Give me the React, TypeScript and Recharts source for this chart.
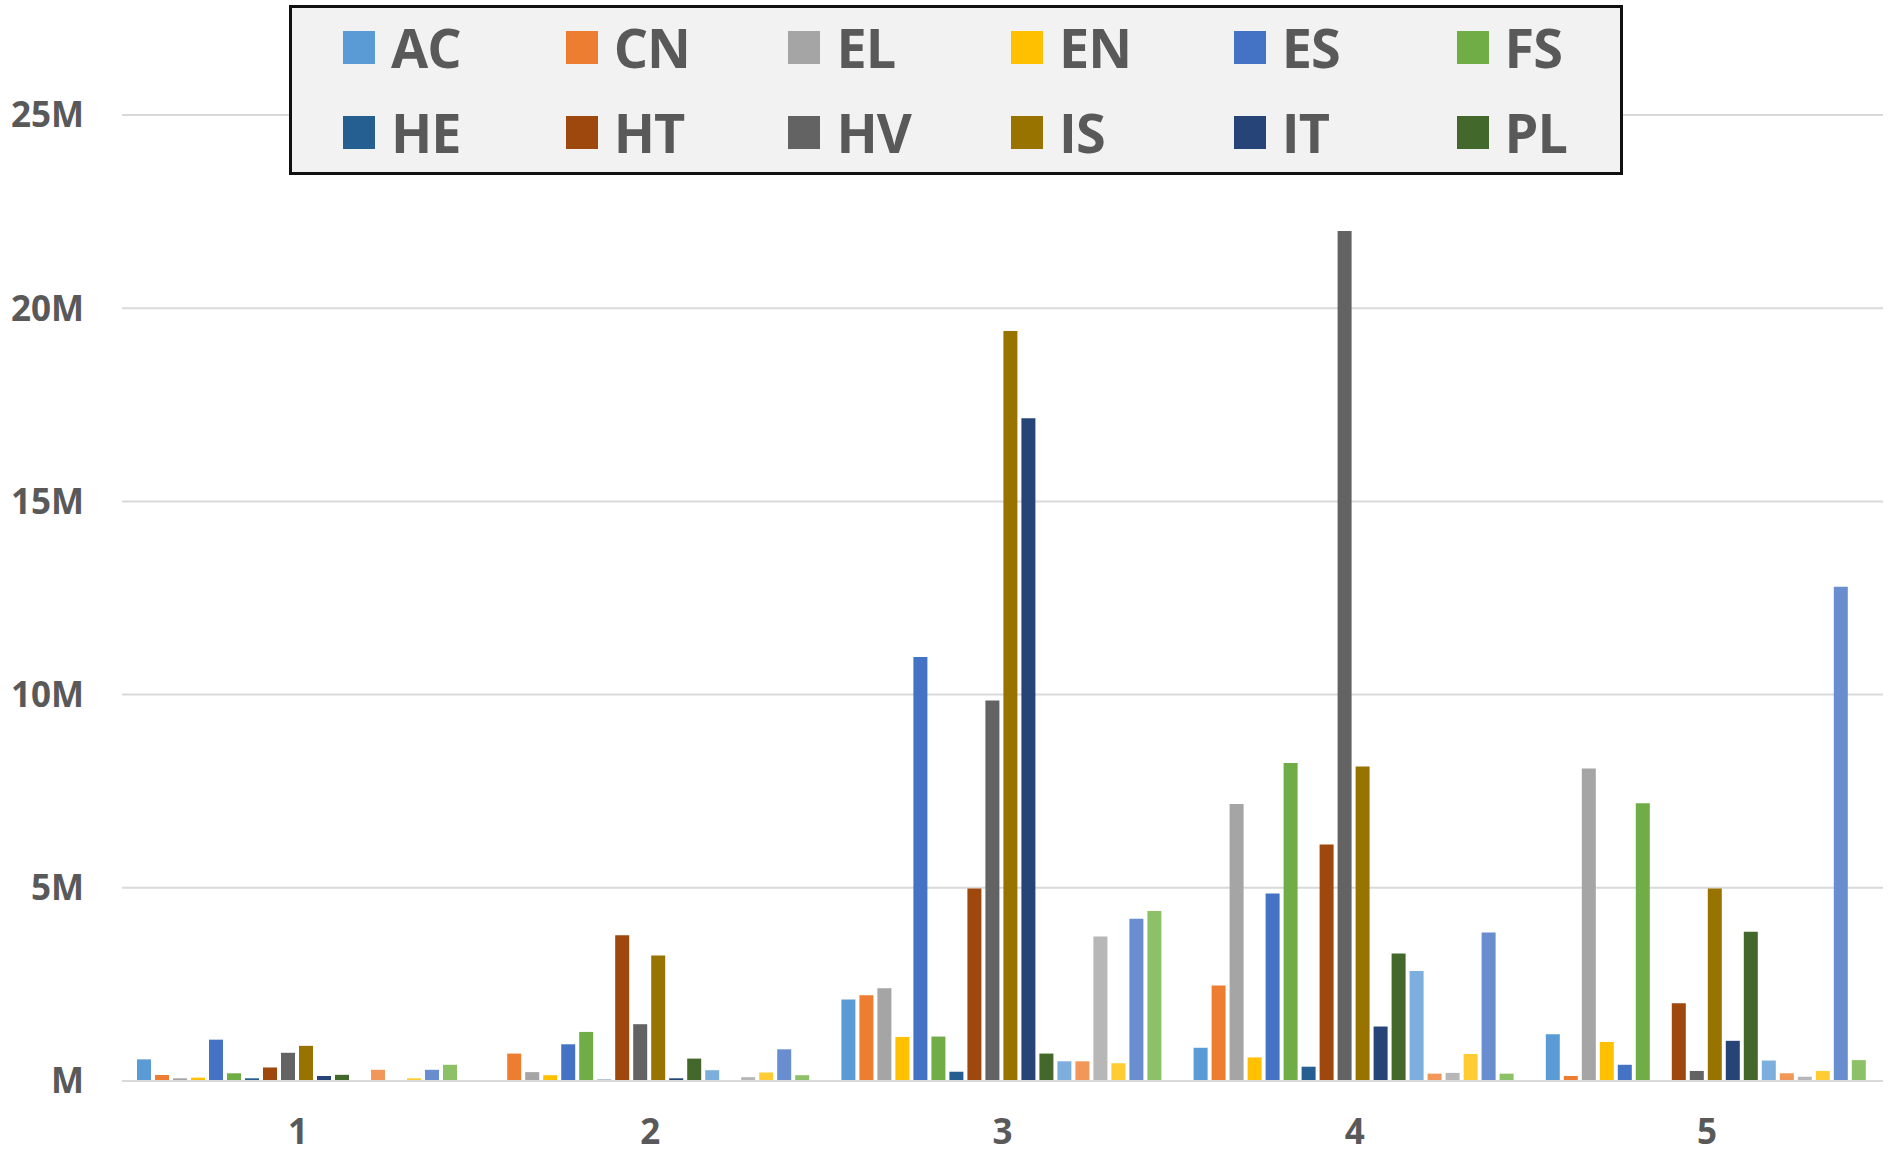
import { BarChart, Bar, XAxis, YAxis, CartesianGrid, Legend } from 'recharts';

const categories = ['1', '2', '3', '4', '5'];

// values in millions, one entry per category
const AC = [0.56, 0, 2.11, 0.86, 1.21];
const CN = [0.155, 0.71, 2.22, 2.47, 0.13];
const EL = [0.07, 0.23, 2.4, 7.17, 8.09];
const EN = [0.086, 0.15, 1.14, 0.61, 1.01];
const ES = [1.07, 0.95, 10.97, 4.85, 0.42];
const FS = [0.2, 1.27, 1.15, 8.23, 7.19];
const HE = [0.07, 0.035, 0.24, 0.37, 0];
const HT = [0.35, 3.77, 4.98, 6.12, 2.01];
const HV = [0.73, 1.47, 9.85, 22.0, 0.26];
const IS = [0.91, 3.25, 19.41, 8.14, 4.98];
const IT = [0.13, 0.07, 17.15, 1.41, 1.04];
const PL = [0.16, 0.58, 0.71, 3.3, 3.86];
// second pass of the palette (not in the legend)
const AC2 = [0, 0.28, 0.51, 2.85, 0.53];
const CN2 = [0.29, 0, 0.51, 0.19, 0.2];
const EL2 = [0, 0.1, 3.74, 0.21, 0.11];
const EN2 = [0.07, 0.22, 0.46, 0.7, 0.26];
const ES2 = [0.29, 0.82, 4.2, 3.84, 12.79];
const FS2 = [0.42, 0.15, 4.4, 0.19, 0.54];

const yTicks = [0, 5, 10, 15, 20, 25];

const series = [
  { key: 'AC', values: AC, color: '#5B9BD5', legend: true },
  { key: 'CN', values: CN, color: '#ED7D31', legend: true },
  { key: 'EL', values: EL, color: '#A5A5A5', legend: true },
  { key: 'EN', values: EN, color: '#FFC000', legend: true },
  { key: 'ES', values: ES, color: '#4472C4', legend: true },
  { key: 'FS', values: FS, color: '#70AD47', legend: true },
  { key: 'HE', values: HE, color: '#255E91', legend: true },
  { key: 'HT', values: HT, color: '#9E480E', legend: true },
  { key: 'HV', values: HV, color: '#636363', legend: true },
  { key: 'IS', values: IS, color: '#997300', legend: true },
  { key: 'IT', values: IT, color: '#264478', legend: true },
  { key: 'PL', values: PL, color: '#43682B', legend: true },
  { key: 'AC2', values: AC2, color: '#7CAFDD', legend: false },
  { key: 'CN2', values: CN2, color: '#F1975A', legend: false },
  { key: 'EL2', values: EL2, color: '#B7B7B7', legend: false },
  { key: 'EN2', values: EN2, color: '#FFCD33', legend: false },
  { key: 'ES2', values: ES2, color: '#698ED0', legend: false },
  { key: 'FS2', values: FS2, color: '#8CC168', legend: false },
];

const data = categories.map((name, i) => {
  const row: Record<string, string | number> = { name };
  series.forEach((s) => {
    row[s.key] = s.values[i];
  });
  return row;
});

const TEXT = '#595959';
const FONT = '"Open Sans", Roboto, sans-serif';

function LegendBox({ payload }: any) {
  const items = (payload || []).filter((p: any) => p.type !== 'none');
  return (
    <div
      style={{
        position: 'relative',
        boxSizing: 'border-box',
        width: 1334,
        height: 170,
        background: '#f2f2f2',
        border: '3px solid #111',
        fontFamily: FONT,
      }}
    >
      {items.map((p: any, i: number) => {
        const col = i % 6;
        const row = Math.floor(i / 6);
        return (
          <div
            key={p.value}
            style={{
              position: 'absolute',
              left: 51 + col * 222.7,
              top: row === 0 ? 23 : 108,
              height: 33,
              display: 'flex',
              alignItems: 'center',
            }}
          >
            <span style={{ width: 32, height: 33, background: p.color, display: 'inline-block' }} />
            <span
              style={{
                marginLeft: 16,
                fontSize: 54,
                fontWeight: 700,
                color: TEXT,
                lineHeight: '33px',
                letterSpacing: -1,
              }}
            >
              {p.value}
            </span>
          </div>
        );
      })}
    </div>
  );
}

export default function App() {
  return (
    <div style={{ width: 1888, height: 1150, background: '#fff', fontFamily: FONT }}>
      <style>{'body{margin:0}'}</style>
      <BarChart
        width={1888}
        height={1150}
        data={data}
        margin={{ top: 115, right: 5, bottom: 0, left: 0 }}
        barCategoryGap={15}
        barGap={4}
      >
        <CartesianGrid vertical={false} stroke="#d9d9d9" strokeWidth={2} />
        <XAxis
          dataKey="name"
          height={69}
          axisLine={{ stroke: '#d9d9d9', strokeWidth: 2 }}
          tickLine={false}
          tickSize={0}
          tickMargin={38}
          tick={{ fill: TEXT, fontSize: 35, fontWeight: 700, fontFamily: FONT }}
        />
        <YAxis
          width={122}
          domain={[0, 25]}
          ticks={yTicks}
          axisLine={false}
          tickLine={false}
          tickSize={0}
          tickMargin={38}
          tick={{ fill: TEXT, fontSize: 35, fontWeight: 700, fontFamily: FONT }}
          tickFormatter={(v: number) => (v === 0 ? 'M' : `${v}M`)}
        />
        <Legend
          layout="vertical"
          verticalAlign="middle"
          align="center"
          wrapperStyle={{ top: 5, left: 289, width: 1334, height: 170 }}
          content={<LegendBox />}
        />
        {series.map((s) => (
          <Bar
            key={s.key}
            dataKey={s.key}
            name={s.key}
            fill={s.color}
            legendType={s.legend ? 'square' : 'none'}
            isAnimationActive={false}
          />
        ))}
      </BarChart>
    </div>
  );
}
